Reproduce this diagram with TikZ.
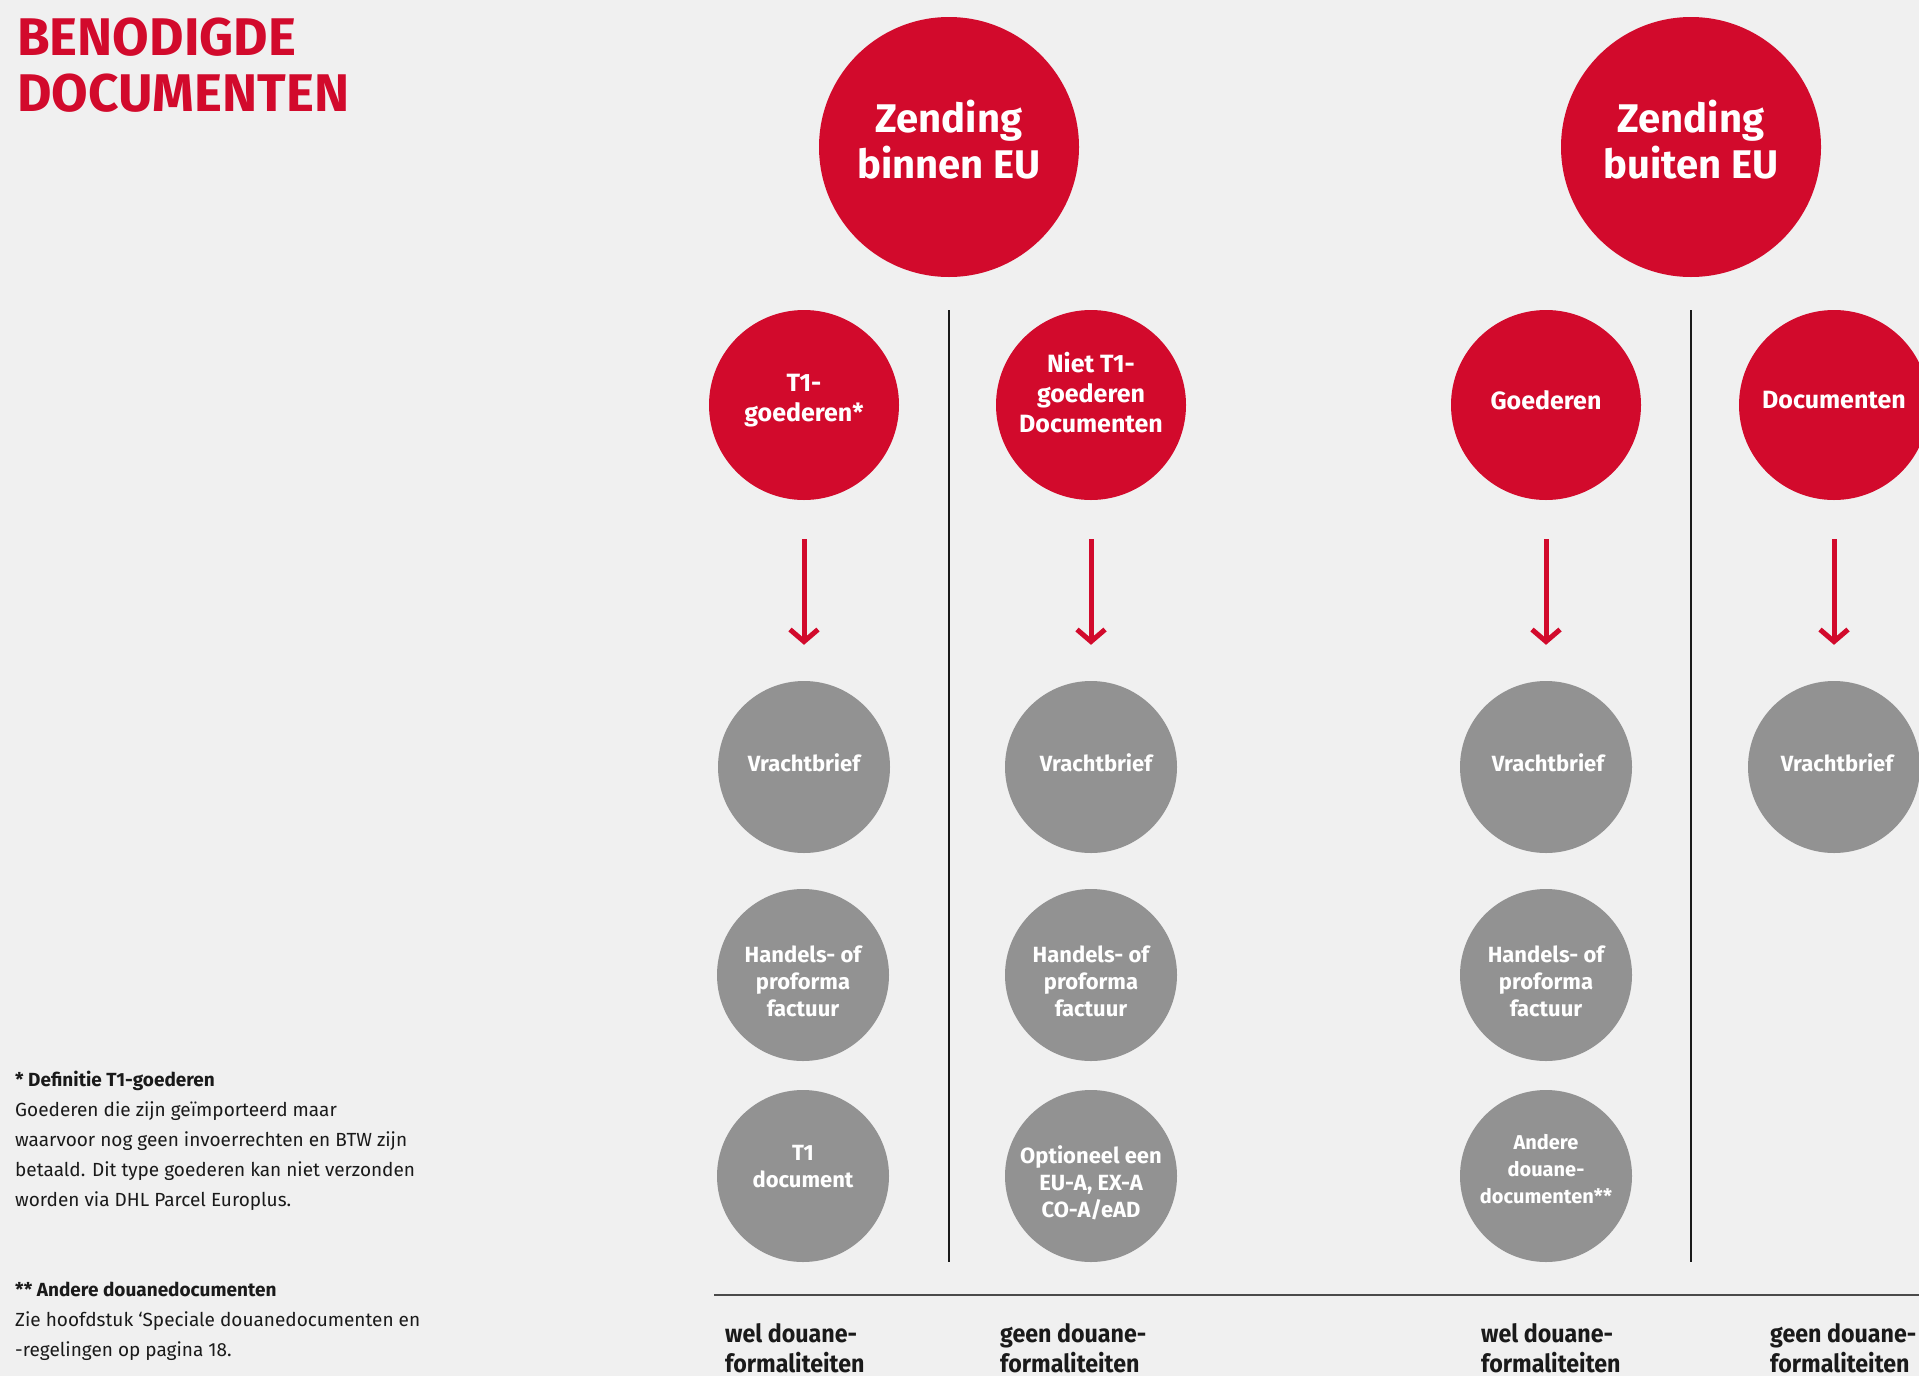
\documentclass[tikz,border=0pt]{standalone}
\usepackage{fontspec}
\setmainfont{Fira Sans}
\newfontfamily\condfont[FakeStretch=0.93]{Fira Sans}
\usetikzlibrary{arrows.meta}
\definecolor{dhlred}{HTML}{D20A2C}
\definecolor{docgrey}{HTML}{929292}
\definecolor{bggrey}{HTML}{F0F0F0}
\definecolor{ink}{HTML}{1A1A1A}
\definecolor{rulegrey}{HTML}{4A4A4A}
\newcommand\fsz[2]{\fontsize{#1}{#2}\selectfont}
\begin{document}
\begin{tikzpicture}[x=1pt,y=-1pt,
  bigred/.style={circle,fill=dhlred,inner sep=0pt,minimum size=260pt},
  subred/.style={circle,fill=dhlred,inner sep=0pt,minimum size=190pt},
  docc/.style={circle,fill=docgrey,inner sep=0pt,minimum size=172pt},
  bigtxt/.style={text=white,font=\bfseries\fsz{40}{46},align=center,inner sep=0pt},
  subtxt/.style={text=white,font=\bfseries\fsz{25}{30},align=center,inner sep=0pt},
  doctxt/.style={text=white,font=\bfseries\fsz{22}{27},align=center,inner sep=0pt},
  flow/.style={draw=dhlred,line width=5pt,-{Straight Barb[length=12pt,width=28pt]},shorten <=39pt,shorten >=36pt},
  divider/.style={draw=ink,line width=1.6pt},
  baserule/.style={draw=rulegrey,line width=2.5pt},
  footlbl/.style={anchor=base west,font=\condfont\bfseries\fsz{25}{30},text=ink,align=left,inner sep=0pt},
  notetxt/.style={anchor=base west,font=\fsz{19}{30},text=ink,align=left,inner sep=0pt},
]
\useasboundingbox (0,0) rectangle (1919,1376);
\clip (0,0) rectangle (1919,1376);
\fill[bggrey] (0,0) rectangle (1919,1376);

% title (anchor = baseline of last line)
\node[anchor=base west,inner sep=0pt,text=dhlred,font=\bfseries\fsz{53}{56},align=left] (title) at (17,111) {BENODIGDE\\DOCUMENTEN};

% top circles
\node[bigred] (zb) at (949,147) {};
\node[bigtxt] (zbt) at ([yshift=7.5pt]zb.center) {Zending\\binnen EU};
\node[bigred] (zu) at (1691,147) {};
\node[bigtxt] (zut) at ([yshift=7.5pt]zu.center) {Zending\\buiten EU};

% category circles
\node[subred] (t1) at (804,405) {};
\node[subtxt] (t1t) at ([yshift=4pt]t1.center) {T1-\\goederen*};
\node[subred] (nt1) at (1091,405) {};
\node[subtxt] (nt1t) at ([yshift=12pt]nt1.center) {Niet T1-\\goederen\\Documenten};
\node[subred] (goe) at (1546,405) {};
\node[subtxt] (goet) at ([yshift=5pt]goe.center) {Goederen};
\node[subred] (doc) at (1834,405) {};
\node[subtxt] (doct) at ([yshift=5pt]doc.center) {Documenten};

% document circles
\node[docc] (v1) at (804,767) {};
\node[doctxt] (v1t) at ([yshift=4pt]v1.center) {Vrachtbrief};
\node[docc] (v2) at (1091,767) {};
\node[doctxt] (v2t) at ([xshift=5pt,yshift=4pt]v2.center) {Vrachtbrief};
\node[docc] (v3) at (1546,767) {};
\node[doctxt] (v3t) at ([xshift=2pt,yshift=4pt]v3.center) {Vrachtbrief};
\node[docc] (v4) at (1834,767) {};
\node[doctxt] (v4t) at ([xshift=3pt,yshift=4pt]v4.center) {Vrachtbrief};

\node[docc] (h1) at (803,975) {};
\node[doctxt] (h1t) at ([yshift=-6pt]h1.center) {Handels- of\\proforma\\factuur};
\node[docc] (h2) at (1091,975) {};
\node[doctxt] (h2t) at ([yshift=-6pt]h2.center) {Handels- of\\proforma\\factuur};
\node[docc] (h3) at (1546,975) {};
\node[doctxt] (h3t) at ([yshift=-6pt]h3.center) {Handels- of\\proforma\\factuur};

\node[docc] (t1d) at (803,1176) {};
\node[doctxt] (t1dt) at ([yshift=9pt]t1d.center) {T1\\document};
\node[docc] (opt) at (1091,1176) {};
\node[doctxt] (optt) at ([yshift=-6.5pt]opt.center) {Optioneel een\\EU-A, EX-A\\CO-A/eAD};
\node[docc] (and) at (1546,1176) {};
\node[doctxt,font=\bfseries\fsz{20}{27}] (andt) at ([yshift=7pt]and.center) {Andere\\douane-\\documenten**};

% arrows
\draw[flow] (t1) -- (v1);
\draw[flow] (nt1) -- (v2);
\draw[flow] (goe) -- (v3);
\draw[flow] (doc) -- (v4);

% dividers
\coordinate (d1a) at (949,310);
\coordinate (d1b) at (949,1262);
\coordinate (d2a) at (1691,310);
\coordinate (d2b) at (1691,1262);
\draw[divider] (d1a) -- (d1b);
\draw[divider] (d2a) -- (d2b);
\coordinate (ra) at (714,1295);
\coordinate (rb) at (1919,1295);
\draw[baserule] (ra) -- (rb);

% bottom labels (anchor = baseline of last line)
\node[footlbl] (f1) at (725,1372) {wel douane-\\formaliteiten};
\node[footlbl] (f2) at (1000,1372) {geen douane-\\formaliteiten};
\node[footlbl] (f3) at (1481,1372) {wel douane-\\formaliteiten};
\node[footlbl] (f4) at (1770,1372) {geen douane-\\formaliteiten};

% notes
\node[notetxt] (n1) at (15,1206) {\textbf{* Definitie T1-goederen}\\Goederen die zijn geïmporteerd maar\\waarvoor nog geen invoerrechten en BTW zijn\\betaald. Dit type goederen kan niet verzonden\\worden via DHL Parcel Europlus.};
\node[notetxt] (n2) at (15,1356) {\textbf{** Andere douanedocumenten}\\Zie hoofdstuk ‘Speciale douanedocumenten en\\-regelingen op pagina 18.};
\end{tikzpicture}
\end{document}
